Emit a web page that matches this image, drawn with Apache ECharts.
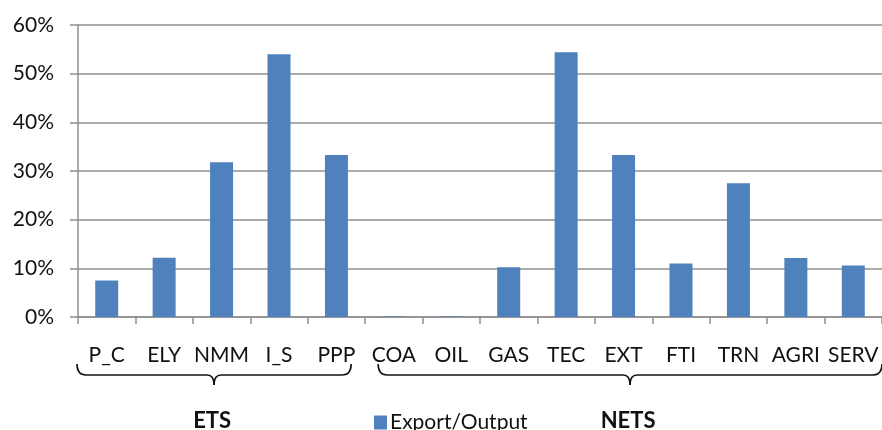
<!DOCTYPE html>
<html>
<head>
<meta charset="utf-8">
<script src="https://cdn.jsdelivr.net/npm/echarts@6/dist/echarts.min.js"></script>
<style>
  html, body { margin: 0; padding: 0; background: #fff; }
  #main { width: 882px; height: 430px; }
</style>
</head>
<body>
<div id="main"></div>
<script>
const chartDom = document.getElementById('main');
const myChart = echarts.init(chartDom);

// Sectors (first five are in the ETS group, the rest NETS)
const sectors = ['P_C', 'ELY', 'NMM', 'I_S', 'PPP', 'COA', 'OIL', 'GAS', 'TEC', 'EXT', 'FTI', 'TRN', 'AGRI', 'SERV'];
const exportShare = [7.5, 12.2, 31.8, 54.0, 33.3, 0.1, 0.1, 10.2, 54.4, 33.3, 11.0, 27.5, 12.1, 10.6];
const groups = [
    { name: 'ETS', from: 0, to: 4 },
    { name: 'NETS', from: 5, to: 13 }
];
const seriesName = 'Export/Output';

const font = 'Lato, "Open Sans", sans-serif';
const gridColor = '#8f8f8f';

const option = {
    animation: false,
    grid: { left: 78, top: 25, bottom: 113, width: 806 },
    legend: {
        data: [seriesName],
        left: 369,
        top: 407,
        icon: 'rect',
        itemWidth: 13,
        itemHeight: 14,
        itemGap: 5,
        textStyle: { fontFamily: font, fontSize: 21, color: '#111', padding: [0, 0, 0, -2] }
    },
    xAxis: {
        type: 'category',
        data: sectors,
        axisLine: { lineStyle: { color: gridColor, width: 1.5 } },
        axisTick: { show: true, length: 7, lineStyle: { color: gridColor, width: 1.5 } },
        axisLabel: { interval: 0, margin: 28, fontFamily: font, fontSize: 21, color: '#111' }
    },
    yAxis: {
        type: 'value',
        min: 0,
        max: 60,
        interval: 10,
        axisLine: { show: true, lineStyle: { color: gridColor, width: 1.5 } },
        axisTick: { show: true, length: 8, lineStyle: { color: gridColor, width: 1.5 } },
        axisLabel: { margin: 24, fontFamily: font, fontSize: 21, color: '#111', formatter: '{value}%' },
        splitLine: { lineStyle: { color: gridColor, width: 1.5 } }
    },
    series: [{
        name: seriesName,
        type: 'bar',
        data: exportShare,
        barWidth: 23,
        itemStyle: { color: '#4F81BD' }
    }]
};

myChart.setOption(option);

// Braces and group labels under the category axis, placed from the axis scale
const centers = sectors.map(s => myChart.convertToPixel({ xAxisIndex: 0 }, s));
const band = centers[1] - centers[0];
const stroke = { stroke: '#111', lineWidth: 1.6, fill: null };
const graphics = [];
groups.forEach((g, i) => {
    let x1 = centers[g.from] - band / 2 - 1;
    let x2 = centers[g.to] + band / 2;
    if (i === 0) x2 -= 14; else x1 += 14;
    const mid = (x1 + x2) / 2;
    const yTop = 364, yLine = 375, yTip = 385;
    const curve = (ax, ay, bx, by, cx, cy) => ({
        type: 'bezierCurve',
        shape: { x1: ax, y1: ay, x2: bx, y2: by, cpx1: cx, cpy1: cy },
        style: stroke
    });
    const line = (ax, bx) => ({
        type: 'line',
        shape: { x1: ax, y1: yLine, x2: bx, y2: yLine },
        style: stroke
    });
    graphics.push(
        curve(x1, yTop, x1 + 9, yLine, x1, yLine),
        line(x1 + 9, mid - 7),
        curve(mid - 7, yLine, mid, yTip, mid, yLine),
        curve(mid + 7, yLine, mid, yTip, mid, yLine),
        line(mid + 7, x2 - 9),
        curve(x2, yTop, x2 - 9, yLine, x2, yLine)
    );
    graphics.push({
        type: 'text',
        x: mid - 2,
        y: 421,
        style: {
            text: g.name,
            font: 'bold 22px ' + font,
            fill: '#111',
            align: 'center',
            verticalAlign: 'middle'
        }
    });
});
myChart.setOption({ graphic: graphics });

window.onresize = () => myChart.resize();
</script>
</body>
</html>
